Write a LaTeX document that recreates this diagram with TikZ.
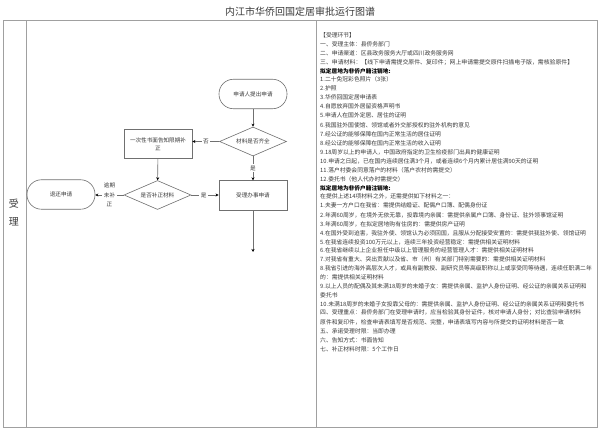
\documentclass[tikz,border=0pt]{standalone}
\usepackage{fontspec}
\usetikzlibrary{shapes.geometric,arrows.meta}
\setmainfont{Noto Sans CJK SC}
\definecolor{tbl}{HTML}{A0A0A0}
\definecolor{edge}{HTML}{707070}
\definecolor{ink}{HTML}{3A3A3A}
\newcounter{tl}
\newcommand{\tline}[3][]{\stepcounter{tl}\node[rowtext,#1] (t\arabic{tl}) at (320,#2) {#3};}
\tikzset{
  x=1pt,y=-1pt,
  rowtext/.style={anchor=west,inner sep=0pt,text=ink,font=\fontsize{5.8}{7}\selectfont},
  rowbold/.style={font=\fontsize{5.7}{7}\selectfont\bfseries,text=black},
  flowtext/.style={text=ink,font=\fontsize{5.6}{8}\selectfont,align=center,inner sep=1pt},
  termnode/.style={flowtext,draw=edge,line width=.6pt,rounded corners=14.5pt,minimum width=68pt,minimum height=29.5pt},
  boxnode/.style={flowtext,draw=edge,line width=.9pt,minimum width=68pt,minimum height=29.5pt},
  decnode/.style={flowtext,draw=edge,line width=.6pt,diamond,aspect=2.3,minimum width=67pt,minimum height=29pt,inner sep=0pt},
  flowarrow/.style={draw=edge,line width=.6pt,-{Stealth[length=3pt,width=3pt,black]}},
  edgelabel/.style={flowtext,fill=white,inner sep=1.5pt},
  grid/.style={draw=tbl,line width=1pt}
}
\begin{document}
\begin{tikzpicture}
\useasboundingbox (0,0) rectangle (600,430);
\fill[white] (0,0) rectangle (600,430);
\node[text=ink,font=\fontsize{10}{12}\selectfont,inner sep=0pt] (title) at (300,12) {内江市华侨回国定居审批运行图谱};
\draw[grid] (3,21) rectangle (597,427);
\draw[grid] (26,21) -- (26,427);
\draw[grid] (316,21) -- (316,427);
\node[text=ink,font=\fontsize{10}{12}\selectfont,inner sep=0pt] (sl) at (14,204) {受};
\node[text=ink,font=\fontsize{10}{12}\selectfont,inner sep=0pt] (sr) at (14,222) {理};
\node[termnode] (start) at (253,94) {申请人提出申请};
\node[decnode] (dec1) at (253,141.5) {材料是否齐全};
\node[boxnode] (notice) at (158,144) {一次性书面告知限期补\\正};
\node[decnode] (dec2) at (157.5,195) {是否补正材料};
\node[boxnode] (accept) at (253,195.5) {受理办事申请};
\node[termnode] (back) at (61,194.5) {退还申请};
\coordinate (next) at (253,252);
\draw[flowarrow] (start) -- (dec1);
\draw[flowarrow] (dec1) -- node[edgelabel] {是} (accept);
\draw[flowarrow] (dec1.west) -- node[edgelabel,pos=.5] {否} (notice.east |- dec1.west);
\draw[flowarrow] (notice) -- (dec2);
\draw[flowarrow] (dec2) -- node[edgelabel,pos=.45] {是} (accept.west |- dec2.east);
\draw[flowarrow] (dec2) -- node[edgelabel,pos=.5,font=\fontsize{5.6}{9.5}\selectfont] {逾期\\未补\\正} (back.east |- dec2.west);
\draw[flowarrow] (accept) -- (next);
\tline{35}{【受理环节】}
\tline{44}{一、受理主体：县侨务部门}
\tline{53}{二、申请渠道：区县政务服务大厅或四川政务服务网}
\tline{62}{\resizebox{253pt}{!}{三、申请材料：【线下申请需提交原件、复印件；网上申请需提交原件扫描电子版，需核验原件】}}
\tline[rowbold]{71}{拟定居地为非侨户籍注销地:}
\tline{79}{1.二十免冠彩色照片（3张）}
\tline{88}{2.护照}
\tline{97}{3.华侨回国定居申请表}
\tline{106}{4.自愿放弃国外居留资格声明书}
\tline{115}{5.申请人在国外定居、居住的证明}
\tline{125}{6.我国驻外国使馆、领馆或者外交部授权的驻外机构的意见}
\tline{134}{7.经公证的能够保障在国内正常生活的居住证明}
\tline{143}{8.经公证的能够保障在国内正常生活的收入证明}
\tline{152}{9.18周岁以上的申请人，中国政府指定的卫生检疫部门出具的健康证明}
\tline{161}{10.申请之日起，已在国内连续居住满3个月，或者连续6个月内累计居住满90天的证明}
\tline{170}{11.落户村委会同意落户的材料（落户农村的需提交）}
\tline{179}{12.委托书（他人代办时需提交）}
\tline[rowbold]{188}{拟定居地为非侨户籍注销地:}
\tline{196}{在提供上述14项材料之外，还需提供如下材料之一：}
\tline{205}{1.夫妻一方户口在我省：需提供结婚证、配偶户口簿、配偶身份证}
\tline{215}{2.年满60周岁，在境外无依无靠，投靠境内亲属：需提供亲属户口簿、身份证、驻外领事馆证明}
\tline{224}{3.年满60周岁，在拟定居地购有住房的：需提供房产证明}
\tline{233}{4.在国外受到迫害，我驻外使、领馆认为必须回国，且服从分配接受安置的：需提供我驻外使、领馆证明}
\tline{242}{5.在我省连续投资100万元以上，连续三年投资经营稳定：需提供相关证明材料}
\tline{250}{6.在我省继续以上企业担任中级以上管理服务的经营管理人才：需提供相关证明材料}
\tline{259}{7.对我省有重大、突出贡献以及省、市（州）有关部门特别需要的：需提供相关证明材料}
\tline{268}{8.我省引进的海外高层次人才，或具有副教授、副研究员等高级职称以上或享受同等待遇，连续任职满二年}
\tline{277}{的：需提供相关证明材料}
\tline{286}{9.以上人员的配偶及其未满18周岁的未婚子女：需提供亲属、监护人身份证明、经公证的亲属关系证明和}
\tline{295}{委托书}
\tline{304}{10.未满18周岁的未婚子女投靠父母的：需提供亲属、监护人身份证明、经公证的亲属关系证明和委托书}
\tline{313}{四、受理重点：县侨务部门在受理申请时，应当检验其身份证件，核对申请人身份；对比查验申请材料}
\tline{322}{原件和复印件，检查申请表填写是否规范、完整，申请表填写内容与所提交的证明材料是否一致}
\tline{331}{五、承诺受理时限：当即办理}
\tline{340}{六、告知方式：书面告知}
\tline{349}{七、补正材料时限：5个工作日}
\end{tikzpicture}
\end{document}
